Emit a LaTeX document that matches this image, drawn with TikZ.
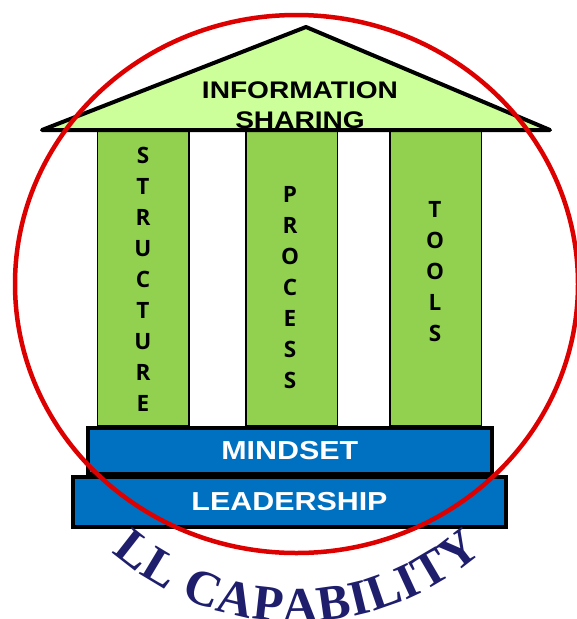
\documentclass[tikz,border=0pt]{standalone}
\usepackage{fontspec}
\setmainfont{Liberation Sans}
\newfontfamily\widesans{Liberation Sans}[FakeStretch=1.17]
\newfontfamily\colfont{Open Sans}
\newfontfamily\serifb{Liberation Serif}
\definecolor{roofgreen}{HTML}{CCFF99}
\definecolor{colgreen}{HTML}{92D050}
\definecolor{barblue}{HTML}{0070C0}
\definecolor{ringred}{HTML}{DD0000}
\definecolor{navy}{RGB}{30,30,108}
\tikzset{
  column/.style={draw=black, line width=1.5pt, fill=colgreen, minimum width=91.5pt, minimum height=296pt, inner sep=0pt},
  coltext/.style={font=\colfont\bfseries\fontsize{22.5}{31}\selectfont, align=center, inner sep=0pt},
  roof/.style={draw=black, line width=4pt, fill=roofgreen, line join=round},
  rooftext/.style={font=\widesans\bfseries\fontsize{24}{30}\selectfont, align=center, inner sep=0pt},
  bar/.style={draw=black, line width=4pt, fill=barblue, text=white, inner sep=0pt,
    font=\widesans\bfseries\fontsize{26}{30}\selectfont},
  ring/.style={draw=ringred, line width=4.5pt},
  ttl/.style={font=\serifb\bfseries\fontsize{50}{50}\selectfont, text=navy, inner sep=0pt, anchor=base}
}
\begin{document}
\begin{tikzpicture}[x=1pt,y=-1pt]
\useasboundingbox (0,0) rectangle (577,619);
% columns
\node[column] (c1) at (143.2,278) {};
\node[column] (c2) at (291.7,278) {};
\node[column] (c3) at (435.8,278) {};
\node[coltext] (t1) at (143,279) {S\\T\\R\\U\\C\\T\\U\\R\\E};
\node[coltext] (t2) at (290,287.5) {P\\R\\O\\C\\E\\S\\S};
\node[coltext] (t3) at (435,271.5) {T\\O\\O\\L\\S};
% roof
\draw[roof] (42,130) -- (306,27) -- (550,130) -- cycle;
\node[rooftext] (rt) at (300,105) {INFORMATION\\SHARING};
% base bars
\node[bar, minimum width=403.5pt, minimum height=46pt] (mind) at (289.75,451) {MINDSET};
\node[bar, minimum width=433pt, minimum height=49.5pt] (lead) at (289.5,502) {LEADERSHIP};
% ring
\draw[ring] (296.5,284) ellipse [x radius=281.5, y radius=269];
% curved title, letter by letter
\foreach \ch/\a [count=\i] in {L/128.03, L/121.01, C/110.93, A/103.34, P/96.32, A/89.29,
    B/81.98, I/76.38, L/70.77, I/65.16, T/59.56, Y/52.25}
  \node[ttl, rotate=90-\a] (ttl\i) at ([shift={(297,342)}]\a:280) {\ch};
\end{tikzpicture}
\end{document}
